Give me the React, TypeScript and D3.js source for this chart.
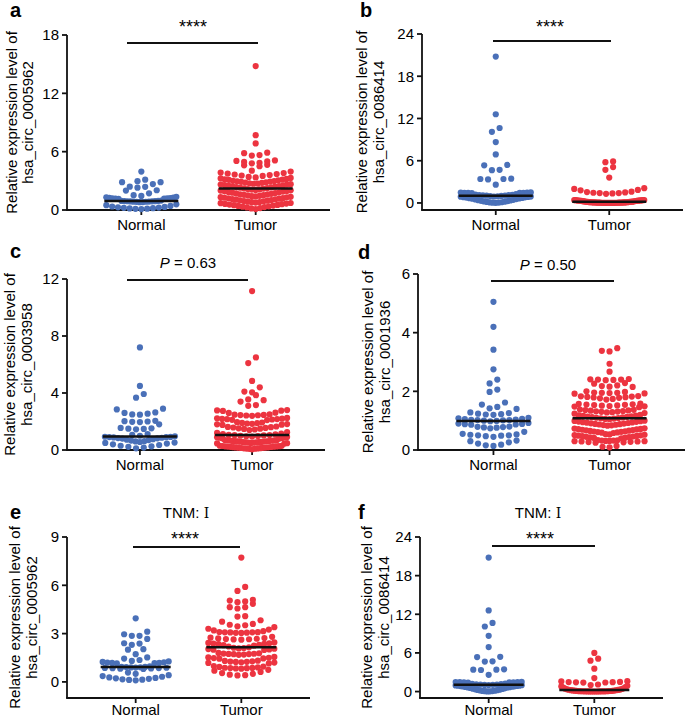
import React from 'react';
import * as d3 from 'd3';

const categories = ['Normal', 'Tumor'];

// hsa_circ_0005962 – normal tissue (panels a and e)
const normal0005962 = [
  3.95, 3.12, 2.96, 2.86, 2.86, 2.67, 2.4, 2.38, 2.3, 2.03, 2.0, 1.72,
  1.52, 1.45, 1.36,
  1.3, 1.27, 1.24, 1.22, 1.2, 1.19, 1.18, 1.16, 1.15,
  0.97, 0.93, 0.93, 0.92, 0.91, 0.9, 0.89, 0.88, 0.87, 0.86, 0.85, 0.84, 0.82, 0.8,
  0.58, 0.5, 0.42, 0.36, 0.32, 0.28, 0.25, 0.22, 0.19, 0.16, 0.14, 0.12, 0.1,
];

// hsa_circ_0005962 – tumor tissue (panel a)
const tumor0005962 = [
  14.8, 7.7, 6.85, 5.9, 5.85, 5.65, 5.6, 5.1, 5.05, 5.0, 4.95, 4.85, 4.8, 4.65, 4.6, 4.5,
  4.05, 3.95, 3.85, 3.8, 3.75, 3.7, 3.65, 3.6, 3.55, 3.5, 3.4,
  3.35, 3.3, 3.25, 3.2, 3.15, 3.12, 3.1, 3.05, 3.0, 2.98, 2.95, 2.92, 2.9,
  2.85, 2.82, 2.8, 2.75, 2.72, 2.7, 2.66, 2.62, 2.6, 2.56, 2.52, 2.5, 2.46, 2.42, 2.4, 2.36,
  2.32, 2.3, 2.26, 2.22, 2.2, 2.16, 2.12, 2.1, 2.06, 2.02, 2.0, 1.96, 1.92, 1.9, 1.86, 1.82,
  1.78, 1.74, 1.7, 1.66, 1.62, 1.6, 1.56, 1.52, 1.5, 1.46, 1.42, 1.4, 1.36, 1.32, 1.3, 1.26,
  1.22, 1.2, 1.16, 1.12, 1.1, 1.06, 1.02, 1.0, 0.96, 0.92, 0.9, 0.86, 0.82, 0.8, 0.76, 0.72,
  0.7, 0.66, 0.62, 0.6, 0.56, 0.52, 0.5, 0.46, 0.42, 0.38, 0.34, 0.3, 0.26, 0.2, 0.16, 0.1,
];

// hsa_circ_0086414 – normal tissue (panels b and f)
const normal0086414 = [
  20.8, 12.6, 10.65, 10.1, 8.65, 6.9, 5.4, 5.35, 4.7, 4.65, 3.45, 3.4, 3.4, 3.35, 2.6,
  1.5, 1.48, 1.46, 1.45, 1.44, 1.43, 1.42, 1.4,
  1.25, 1.2, 1.15, 1.12, 1.1, 1.08, 1.05, 1.03, 1.0, 0.98, 0.95, 0.92, 0.9, 0.88, 0.85,
  0.82, 0.8, 0.76, 0.72, 0.68, 0.64, 0.6, 0.55, 0.5, 0.45, 0.4, 0.35, 0.3, 0.26, 0.22,
  0.18, 0.14, 0.1, 0.08, 0.06, 0.04, 0.02,
];

// hsa_circ_0086414 – tumor tissue (panel b)
const tumor0086414 = [
  5.9, 5.8, 5.1, 4.7, 3.6,
  2.1, 2.0, 1.85, 1.8, 1.6, 1.55, 1.5, 1.45, 1.4, 1.4, 1.35, 1.3,
  0.42, 0.41, 0.4, 0.39, 0.37, 0.36, 0.34, 0.33, 0.31, 0.3,
  0.38, 0.35, 0.32, 0.3, 0.28, 0.26, 0.24, 0.22, 0.2, 0.19,
  0.18, 0.17, 0.16, 0.15, 0.14, 0.13, 0.12, 0.11, 0.1, 0.1,
  0.09, 0.09, 0.08, 0.08, 0.07, 0.07, 0.06, 0.06, 0.05, 0.05,
  0.05, 0.04, 0.04, 0.04, 0.03, 0.03, 0.03, 0.03, 0.02, 0.02,
  0.02, 0.02, 0.01, 0.01, 0.01, 0.01, 0.01, 0.01,
];

// hsa_circ_0003958 (panel c)
const normal0003958 = [
  7.2, 4.5, 3.93, 3.67, 2.9, 2.85, 2.64, 2.6, 2.55, 2.5, 2.48, 2.05, 2.02, 2.0, 1.98, 1.96,
  1.8, 1.55, 1.52, 1.5, 1.48, 1.45,
  1.12, 1.06, 1.0, 0.96, 0.93, 0.92, 0.91, 0.9, 0.88, 0.86, 0.84, 0.82, 0.8, 0.76, 0.72,
  0.7, 0.66, 0.62, 0.6, 0.56, 0.52, 0.5, 0.45, 0.4, 0.35, 0.3, 0.26, 0.22, 0.17, 0.12,
];
const tumor0003958 = [
  11.15, 6.5, 6.1, 4.85, 4.4, 4.1, 4.05, 3.85, 3.55, 3.5, 3.4, 3.15, 3.1,
  2.8, 2.78, 2.76, 2.74, 2.62, 2.6,
  2.5, 2.48, 2.46, 2.45, 2.44, 2.42, 2.4,
  2.25, 2.22, 2.2, 2.18, 2.17, 2.16, 2.14, 2.12, 2.1,
  1.95, 1.93, 1.9, 1.88, 1.86, 1.84, 1.82, 1.8, 1.78, 1.76,
  1.65, 1.62, 1.6, 1.58, 1.55, 1.52, 1.5, 1.48, 1.44, 1.4,
  1.25, 1.2, 1.15, 1.12, 1.09, 1.06, 1.05, 1.04, 1.02, 1.0, 0.98, 0.96, 0.94, 0.92, 0.9,
  0.88, 0.86, 0.84, 0.82, 0.8,
  0.7, 0.69, 0.68, 0.67, 0.66, 0.65, 0.64, 0.63, 0.62, 0.61, 0.6, 0.59, 0.58, 0.57, 0.56,
  0.55, 0.54, 0.53, 0.52, 0.51, 0.5, 0.48, 0.46, 0.45,
  0.3, 0.29, 0.28, 0.27, 0.26, 0.25, 0.24, 0.23, 0.22, 0.21, 0.2, 0.19, 0.18, 0.17, 0.16,
  0.15, 0.14, 0.13, 0.12, 0.11, 0.1, 0.09, 0.08, 0.05,
];

// hsa_circ_0001936 (panel d)
const normal0001936 = [
  5.05, 4.2, 3.42, 2.75, 2.4, 2.27, 2.06, 1.98, 1.62, 1.55, 1.47, 1.42, 1.4,
  1.28, 1.26, 1.24, 1.22, 1.21, 1.2,
  1.1, 1.08, 1.06, 1.05, 1.04, 1.03, 1.02, 1.02, 1.01, 1.0, 0.99, 0.98,
  0.92, 0.9, 0.89, 0.88, 0.87, 0.86,
  0.8, 0.79, 0.78, 0.77, 0.76, 0.74,
  0.62,
  0.55, 0.53, 0.52, 0.5, 0.5, 0.49, 0.47, 0.45,
  0.32, 0.3, 0.26, 0.22, 0.18, 0.16, 0.14,
];
const tumor0001936 = [
  3.47, 3.38, 3.36, 2.94, 2.67,
  2.42, 2.41, 2.4, 2.4, 2.39, 2.38,
  2.28, 2.26, 2.2, 2.18, 2.16, 2.15,
  2.0, 1.98, 1.96, 1.95, 1.95, 1.94, 1.93, 1.92,
  1.84, 1.83, 1.82, 1.81, 1.8, 1.79, 1.78, 1.76, 1.74, 1.72,
  1.58, 1.57, 1.56, 1.55, 1.54, 1.53, 1.52, 1.51, 1.5, 1.49, 1.48, 1.46,
  1.38, 1.37, 1.36, 1.35, 1.34, 1.33, 1.32, 1.31, 1.3, 1.29, 1.28, 1.26, 1.24,
  1.2, 1.18, 1.17, 1.16, 1.15, 1.14, 1.13, 1.12, 1.11, 1.1, 1.09, 1.08, 1.07, 1.06, 1.05,
  1.0, 0.99, 0.98, 0.97, 0.96, 0.95, 0.94, 0.93, 0.92, 0.91, 0.9, 0.89, 0.88, 0.87, 0.86,
  0.85, 0.84, 0.83,
  0.74, 0.73, 0.72, 0.71, 0.7, 0.69, 0.68, 0.67, 0.66, 0.65, 0.64, 0.63, 0.62, 0.61, 0.6,
  0.59, 0.58,
  0.54, 0.53, 0.52, 0.51, 0.5, 0.49, 0.48, 0.47, 0.46, 0.45, 0.44, 0.43, 0.42, 0.41, 0.4,
  0.34, 0.33, 0.32, 0.32, 0.31, 0.31, 0.3, 0.3, 0.29, 0.29, 0.28, 0.27, 0.26, 0.25,
  0.14, 0.11, 0.09,
];

// TNM stage I tumors (panels e and f)
const tumor0005962StageI = [
  7.72, 5.9, 5.65, 5.1, 5.05, 5.0, 4.95, 4.85, 4.64, 4.64, 4.56, 4.08, 4.06, 3.83, 3.74,
  3.6, 3.55, 3.52,
  3.45, 3.4, 3.3, 3.25, 3.2, 3.15,
  3.1, 3.09, 3.08, 3.08, 3.07, 3.06, 3.05, 3.04,
  2.8, 2.75, 2.72, 2.7, 2.68, 2.66, 2.65, 2.64, 2.62,
  2.45, 2.42, 2.4, 2.38, 2.36, 2.35, 2.3, 2.28, 2.25,
  2.2, 2.15, 2.12, 2.1, 2.08, 2.06, 2.04, 2.02, 2.0, 1.98,
  1.8, 1.78, 1.76, 1.75, 1.74, 1.73, 1.72, 1.7, 1.68,
  1.55, 1.52, 1.5, 1.48, 1.46, 1.44,
  1.32, 1.3, 1.28, 1.26, 1.25, 1.24, 1.22, 1.2, 1.18, 1.15,
  0.98, 0.95, 0.93, 0.9, 0.88, 0.87, 0.86, 0.85, 0.84, 0.82,
  0.75, 0.7, 0.62, 0.55, 0.5, 0.45, 0.42, 0.4,
];
const tumor0086414StageI = [
  6.0, 5.1, 4.8, 3.56, 2.1, 1.62, 1.58, 1.5, 1.47, 1.45, 1.43, 1.41, 1.4,
  1.1, 1.0, 0.9, 0.8, 0.7, 0.6, 0.5, 0.45, 0.4, 0.35, 0.3, 0.28, 0.25, 0.22, 0.2, 0.18,
  0.16, 0.14, 0.12, 0.1, 0.09, 0.08, 0.07, 0.06, 0.05, 0.05, 0.04, 0.04, 0.03, 0.03, 0.03,
  0.02, 0.02, 0.02, 0.01, 0.01, 0.01, 0.01,
];

const yTicksA = [0, 6, 12, 18];
const yTicksB = [0, 6, 12, 18, 24];
const yTicksC = [0, 4, 8, 12];
const yTicksD = [0, 2, 4, 6];
const yTicksE = [0, 3, 6, 9];
const yTicksF = [0, 6, 12, 18, 24];

const FONT = '"Liberation Sans", Arial, Helvetica, sans-serif';
const BLUE = '#4a70b8';
const RED = '#ec3440';

type PanelCfg = {
  letter: string;
  gene: string;
  normal: number[];
  tumor: number[];
  domain: [number, number];
  ticks: number[];
  left: number;
  right: number;
  top: number;
  bottom: number;
  titleX: [number, number];
  letterPos: [number, number];
  sigX: [number, number];
  sigY: number;
  sigText: string;
  sigTextX: number;
  sigTextY: number;
  header?: boolean;
  headerX?: number;
  headerY?: number;
  half: number;
  labelDy: number;
};

const panels: PanelCfg[] = [
  {
    letter: 'a', gene: 'hsa_circ_0005962', normal: normal0005962, tumor: tumor0005962,
    domain: [0, 18], ticks: yTicksA, left: 67, right: 330, top: 35, bottom: 210,
    titleX: [17, 33], letterPos: [10, 17], sigX: [127, 258], sigY: 43,
    sigText: '****', sigTextX: 193, sigTextY: 33, half: 37, labelDy: 20,
  },
  {
    letter: 'b', gene: 'hsa_circ_0086414', normal: normal0086414, tumor: tumor0086414,
    domain: [-1, 24], ticks: yTicksB, left: 422, right: 683, top: 34, bottom: 210,
    titleX: [367, 384], letterPos: [360, 17], sigX: [493, 611], sigY: 41,
    sigText: '****', sigTextX: 550, sigTextY: 33, half: 37, labelDy: 20,
  },
  {
    letter: 'c', gene: 'hsa_circ_0003958', normal: normal0003958, tumor: tumor0003958,
    domain: [0, 12], ticks: yTicksC, left: 67, right: 325, top: 279, bottom: 450,
    titleX: [15, 32], letterPos: [10, 258], sigX: [127, 248], sigY: 280,
    sigText: 'P', sigTextX: 188, sigTextY: 268, half: 37, labelDy: 20,
  },
  {
    letter: 'd', gene: 'hsa_circ_0001936', normal: normal0001936, tumor: tumor0001936,
    domain: [0, 6], ticks: yTicksD, left: 418, right: 685, top: 274, bottom: 450,
    titleX: [373, 390], letterPos: [358, 259], sigX: [491, 614], sigY: 281,
    sigText: 'P', sigTextX: 548, sigTextY: 270, half: 37, labelDy: 20,
  },
  {
    letter: 'e', gene: 'hsa_circ_0005962', normal: normal0005962, tumor: tumor0005962StageI,
    domain: [-1, 9], ticks: yTicksE, left: 67, right: 310, top: 537, bottom: 698,
    titleX: [20, 37], letterPos: [10, 519], sigX: [133, 240], sigY: 547,
    sigText: '****', sigTextX: 185, sigTextY: 545,
    header: true, headerX: 186, headerY: 518, half: 35, labelDy: 17,
  },
  {
    letter: 'f', gene: 'hsa_circ_0086414', normal: normal0086414, tumor: tumor0086414StageI,
    domain: [-1, 24], ticks: yTicksF, left: 420, right: 663, top: 537, bottom: 698,
    titleX: [372, 389], letterPos: [358, 519], sigX: [492, 595], sigY: 546,
    sigText: '****', sigTextX: 540, sigTextY: 545,
    header: true, headerX: 538, headerY: 518, half: 35, labelDy: 17,
  },
];

const pValues: Record<string, string> = { c: '0.63', d: '0.50' };

const R = 3.1;

function swarm(values: number[], y: (v: number) => number, cx: number, maxHalf: number) {
  const pts = values.map((v) => ({ v, py: y(v) })).sort((a, b) => a.v - b.v);
  const rowH = 2 * R;
  const rows: { v: number; py: number }[][] = [];
  let cur: { v: number; py: number }[] = [];
  for (const p of pts) {
    if (cur.length && cur[0].py - p.py >= rowH) {
      rows.push(cur);
      cur = [];
    }
    cur.push(p);
  }
  if (cur.length) rows.push(cur);
  const out: { x: number; y: number }[] = [];
  for (const row of rows) {
    const n = row.length;
    const sp = n > 1 ? Math.min(2 * R + 1.5, (2 * maxHalf) / (n - 1)) : 0;
    const slots = d3.range(n).map((i) => (i - (n - 1) / 2) * sp);
    slots.sort((a, b) => Math.abs(a) - Math.abs(b) || a - b);
    row.forEach((p, i) => out.push({ x: cx + slots[i], y: p.py }));
  }
  return out;
}

function Panel({ cfg }: { cfg: PanelCfg }) {
  const y = d3.scaleLinear().domain(cfg.domain).range([cfg.bottom, cfg.top]);
  const x = d3.scalePoint<string>().domain(categories).range([cfg.left, cfg.right]).padding(0.65);
  const groups = [
    { name: categories[0], values: cfg.normal, color: BLUE },
    { name: categories[1], values: cfg.tumor, color: RED },
  ];
  const midY = (cfg.top + cfg.bottom) / 2;
  const maxHalf = cfg.half - 2;
  return (
    <g fontFamily={FONT}>
      <text x={cfg.letterPos[0]} y={cfg.letterPos[1]} fontSize={20} fontWeight="bold">{cfg.letter}</text>
      {cfg.header && (
        <text x={cfg.headerX} y={cfg.headerY} fontSize={15} textAnchor="middle">
          TNM:{' '}
          <tspan fontFamily='"DejaVu Serif", "Liberation Serif", serif' fontSize={14}>Ⅰ</tspan>
        </text>
      )}
      <text transform={`translate(${cfg.titleX[0]},${midY}) rotate(-90)`} fontSize={15} textAnchor="middle">
        Relative expression level of
      </text>
      <text transform={`translate(${cfg.titleX[1]},${midY}) rotate(-90)`} fontSize={15} textAnchor="middle">
        {cfg.gene}
      </text>
      {/* y axis */}
      <line x1={cfg.left} x2={cfg.left} y1={cfg.top} y2={cfg.bottom} stroke="#111" strokeWidth={1.8} />
      {cfg.ticks.map((t) => (
        <g key={t}>
          <line x1={cfg.left - 5} x2={cfg.left} y1={y(t)} y2={y(t)} stroke="#111" strokeWidth={1.8} />
          <text x={cfg.left - 8} y={y(t)} dy="0.36em" fontSize={15} textAnchor="end">{t}</text>
        </g>
      ))}
      {/* x axis */}
      <line x1={cfg.left - 0.9} x2={cfg.right} y1={cfg.bottom} y2={cfg.bottom} stroke="#111" strokeWidth={1.8} />
      {categories.map((c) => (
        <g key={c}>
          <line x1={x(c)} x2={x(c)} y1={cfg.bottom} y2={cfg.bottom + 5} stroke="#111" strokeWidth={1.8} />
          <text x={x(c)} y={cfg.bottom + cfg.labelDy} fontSize={15} textAnchor="middle">{c}</text>
        </g>
      ))}
      {/* dots */}
      {groups.map((g) => (
        <g key={g.name}>
          {swarm(g.values, y, x(g.name) as number, maxHalf).map((p, i) => (
            <circle key={i} cx={p.x} cy={p.y} r={R} fill={g.color} />
          ))}
        </g>
      ))}
      {/* medians */}
      {groups.map((g) => {
        const m = d3.median(g.values) as number;
        const cx = x(g.name) as number;
        return (
          <line key={g.name} x1={cx - cfg.half} x2={cx + cfg.half} y1={y(m)} y2={y(m)} stroke="#111" strokeWidth={2.5} />
        );
      })}
      {/* significance */}
      <line x1={cfg.sigX[0]} x2={cfg.sigX[1]} y1={cfg.sigY} y2={cfg.sigY} stroke="#111" strokeWidth={1.8} />
      {cfg.sigText === 'P' ? (
        <text x={cfg.sigTextX} y={cfg.sigTextY} fontSize={15} textAnchor="middle">
          <tspan fontStyle="italic">P</tspan> = {pValues[cfg.letter]}
        </text>
      ) : (
        <text x={cfg.sigTextX} y={cfg.sigTextY} fontSize={18} textAnchor="middle">{cfg.sigText}</text>
      )}
    </g>
  );
}

export default function App() {
  return (
    <svg
      width={685}
      height={717}
      viewBox="0 0 685 717"
      style={{ position: 'absolute', left: 0, top: 0, background: '#fff' }}
    >
      <rect width={685} height={717} fill="#fff" />
      {panels.map((p) => (
        <Panel key={p.letter} cfg={p} />
      ))}
    </svg>
  );
}
